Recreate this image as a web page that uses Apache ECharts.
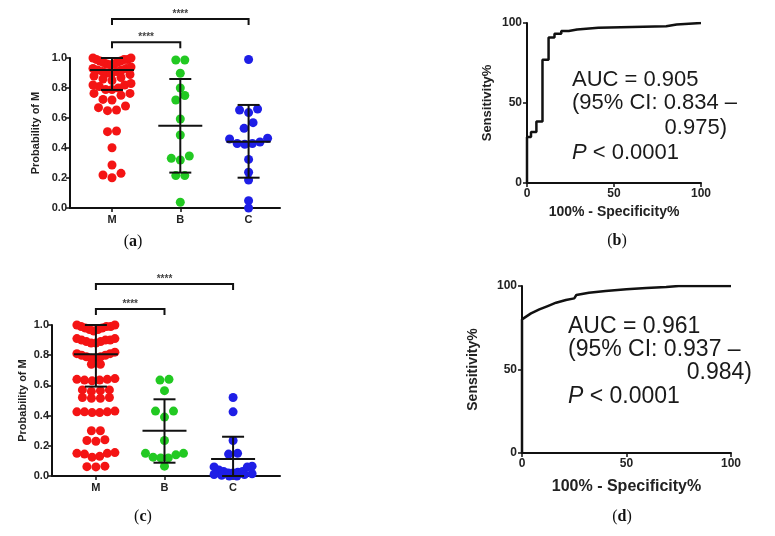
<!DOCTYPE html>
<html>
<head>
<meta charset="utf-8">
<script src="https://cdn.jsdelivr.net/npm/echarts@6/dist/echarts.min.js"></script>
<style>
  html, body { margin: 0; padding: 0; background: #fff; }
  #chart { width: 775px; height: 536px; }
</style>
</head>
<body>
<div id="chart"></div>
<script>
// groups on the dot plots
const groups = ['M', 'B', 'C']

// (a) probability of M, one value per sample
const aM = [1.0, 1.0, 0.99, 0.99, 0.99, 0.98, 0.98, 0.97, 0.97, 0.96, 0.96, 0.955,
  0.94, 0.93, 0.93, 0.92, 0.92, 0.91, 0.91, 0.90, 0.90,
  0.89, 0.88, 0.87, 0.86, 0.85,
  0.83, 0.82, 0.82, 0.81, 0.80, 0.79, 0.79,
  0.764, 0.764, 0.751, 0.724, 0.72,
  0.68, 0.669, 0.653, 0.649,
  0.513, 0.509, 0.402, 0.287, 0.231, 0.22, 0.202]
const aB = [0.987, 0.987, 0.898, 0.80, 0.75, 0.72, 0.593, 0.487, 0.347, 0.331, 0.32, 0.216, 0.216, 0.038]
const aC = [0.99, 0.66, 0.653, 0.636, 0.569, 0.531, 0.465, 0.46, 0.44, 0.43, 0.43, 0.425, 0.324, 0.238, 0.187, 0.049, 0.0]
const aMean = [0.92, 0.549, 0.442]
const aUpper = [1.0, 0.86, 0.687]
const aLower = [0.787, 0.236, 0.202]

// (c) probability of M, one value per sample
const cM = [1.0, 1.0, 0.99, 0.99, 0.99, 0.98, 0.98, 0.97, 0.97, 0.96,
  0.91, 0.91, 0.90, 0.90, 0.90, 0.89, 0.89, 0.88, 0.88,
  0.82, 0.81, 0.81, 0.80, 0.80, 0.79, 0.79, 0.78, 0.78,
  0.74, 0.74,
  0.645, 0.64, 0.64, 0.635, 0.635, 0.63,
  0.57, 0.57, 0.565, 0.56,
  0.52, 0.52, 0.515, 0.515,
  0.43, 0.425, 0.425, 0.425, 0.42, 0.42,
  0.30, 0.30,
  0.24, 0.235, 0.23,
  0.155, 0.15, 0.15, 0.145, 0.13, 0.125,
  0.065, 0.062, 0.06]
const cB = [0.64, 0.635, 0.565, 0.43, 0.43, 0.39, 0.235, 0.15, 0.15, 0.14, 0.125, 0.12, 0.12, 0.065]
const cC = [0.52, 0.425, 0.235, 0.15, 0.145, 0.065, 0.06, 0.06, 0.04, 0.03, 0.03, 0.025, 0.02, 0.02,
  0.015, 0.01, 0.01, 0.005, 0.0, 0.0]
const cMean = [0.806, 0.30, 0.113]
const cUpper = [1.0, 0.508, 0.26]
const cLower = [0.592, 0.088, 0.0]

// significance brackets: [from group, to group]
const sigPairs = [[1, 3], [1, 2]]
const sigMark = '****'
const aBracketY = [1.26, 1.105]
const cBracketY = [1.272, 1.106]

// (b) ROC curve, 100% - specificity vs sensitivity
const bFpr = [0, 0, 2.3, 5.4, 8.9, 12.4, 15.8, 19.7, 24, 28.8, 41, 80, 86, 100]
const bTpr = [0, 28.8, 31.9, 38.5, 77, 91, 93.3, 95, 96, 97, 98, 99, 100, 100]
const bNote = ['AUC = 0.905', '(95% CI: 0.834 \u2013', '0.975)', '< 0.0001']

// (d) ROC curve
const dFpr = [0, 0, 4.3, 8.3, 12.3, 16.3, 21, 25, 26, 32, 40, 50, 59.5, 69, 75, 100]
const dTpr = [0, 80, 83.6, 86, 88, 90, 91.6, 92.6, 94.6, 96, 97, 98, 98.8, 99.4, 100, 100]
const dNote = ['AUC = 0.961', '(95% CI: 0.937 \u2013', '0.984)', '< 0.0001']

const panelTags = ['a', 'b', 'c', 'd']
const groupColors = ['#f41414', '#22c922', '#1e1ee6']

const SANS = '"Liberation Sans", Arial, sans-serif'
const SERIF = '"Liberation Serif", "Times New Roman", serif'
const INK = '#111'

// rows of near-equal values laid side by side, lowest in the middle
const TOL = 0.046
function swarm(values, xc, pxPerX) {
  const sorted = values.slice().sort((p, q) => q - p)
  const rows = []
  sorted.forEach(v => {
    const row = rows[rows.length - 1]
    if (row && row[0] - v <= TOL) row.push(v)
    else rows.push([v])
  })
  const pts = []
  rows.forEach(row => {
    const asc = row.slice().reverse()
    const n = asc.length
    const gap = n > 1 ? Math.min(9, 38 / (n - 1)) : 0
    asc.forEach((v, i) => {
      let k
      if (n % 2) k = (i % 2 ? -1 : 1) * Math.ceil(i / 2)
      else k = (i % 2 ? 1 : -1) * (Math.floor(i / 2) + 0.5)
      pts.push([xc + k * gap / pxPerX, v])
    })
  })
  return pts
}

function meanSd(params, api) {
  const x = api.value(0)
  const m = api.coord([x, api.value(1)])
  const u = api.coord([x, api.value(2)])
  const l = api.coord([x, api.value(3)])
  const st = { stroke: INK, lineWidth: 2 }
  return {
    type: 'group',
    children: [
      { type: 'line', shape: { x1: u[0], y1: u[1], x2: l[0], y2: l[1] }, style: st },
      { type: 'line', shape: { x1: m[0] - 22, y1: m[1], x2: m[0] + 22, y2: m[1] }, style: st },
      { type: 'line', shape: { x1: u[0] - 11, y1: u[1], x2: u[0] + 11, y2: u[1] }, style: st },
      { type: 'line', shape: { x1: l[0] - 11, y1: l[1], x2: l[0] + 11, y2: l[1] }, style: st }
    ]
  }
}

function bracket(params, api) {
  const p1 = api.coord([api.value(0), api.value(2)])
  const p2 = api.coord([api.value(1), api.value(2)])
  const leg = 6
  return {
    type: 'group',
    children: [
      {
        type: 'polyline',
        shape: { points: [[p1[0], p1[1] + leg], [p1[0], p1[1]], [p2[0], p2[1]], [p2[0], p2[1] + leg]] },
        style: { stroke: INK, lineWidth: 2, fill: null }
      },
      {
        type: 'text', x: (p1[0] + p2[0]) / 2, y: p1[1] - 5,
        style: { text: sigMark, font: 'bold 10px ' + SANS, fill: '#444', align: 'center', verticalAlign: 'middle' }
      }
    ]
  }
}

function dotAxes(grid, min, max, nameGap) {
  const x = {
    type: 'value', gridIndex: grid, min: min, max: max,
    axisLine: { onZero: false, lineStyle: { color: INK, width: 2 } },
    axisTick: { customValues: [1, 2, 3], length: 4, lineStyle: { color: INK, width: 1.5 } },
    axisLabel: {
      customValues: [1, 2, 3], margin: 6, color: '#222', fontSize: 11, fontWeight: 'bold',
      formatter: v => groups[Math.round(v) - 1]
    },
    splitLine: { show: false }
  }
  const y = {
    type: 'value', gridIndex: grid, min: 0, max: 1, interval: 0.2,
    name: 'Probability of M', nameLocation: 'middle', nameGap: nameGap,
    nameTextStyle: { fontSize: 11, fontWeight: 'bold', color: '#222' },
    axisLine: { onZero: false, lineStyle: { color: INK, width: 2 } },
    axisTick: { length: 4, lineStyle: { color: INK, width: 1.5 } },
    axisLabel: { margin: 3, color: '#222', fontSize: 11, fontWeight: 'bold', formatter: v => v.toFixed(1) },
    splitLine: { show: false }
  }
  return [x, y]
}

function rocAxes(grid, nameGap, nameSize, yNameGap, yNameSize) {
  const common = {
    type: 'value', gridIndex: grid, min: 0, max: 100, interval: 50,
    nameLocation: 'middle',
    axisLine: { onZero: false, lineStyle: { color: INK, width: 2 } },
    axisTick: { length: 4, lineStyle: { color: INK, width: 1.5 } },
    axisLabel: { margin: 5, color: '#222', fontSize: 12, fontWeight: 'bold' },
    splitLine: { show: false }
  }
  const x = Object.assign({}, common, {
    name: '100% - Specificity%', nameGap: nameGap,
    nameTextStyle: { fontSize: nameSize, fontWeight: 'bold', color: '#222' }
  })
  const y = Object.assign({}, common, {
    name: 'Sensitivity%', nameGap: yNameGap,
    nameTextStyle: { fontSize: yNameSize, fontWeight: 'bold', color: '#222' }
  })
  return [x, y]
}

const grids = [
  { left: 70, top: 58, width: 210, height: 150 },
  { left: 527, top: 23, width: 174, height: 160 },
  { left: 52, top: 325, width: 228, height: 151 },
  { left: 522, top: 286, width: 209, height: 167 }
]
const aRange = [0.385, 3.46]
const cRange = [0.36, 3.684]
const aPx = grids[0].width / (aRange[1] - aRange[0])
const cPx = grids[2].width / (cRange[1] - cRange[0])

const aAx = dotAxes(0, aRange[0], aRange[1], 29)
const bAx = rocAxes(1, 22, 14, 33, 13)
const cAx = dotAxes(2, cRange[0], cRange[1], 24)
const dAx = rocAxes(3, 26, 16, 42, 14)

const series = []
function dotPanel(idx, lists, mean, upper, lower, brY, pxPerX) {
  lists.forEach((vals, i) => {
    series.push({
      type: 'scatter', xAxisIndex: idx, yAxisIndex: idx, z: 2, clip: false,
      symbolSize: 9, itemStyle: { color: groupColors[i], opacity: 1 },
      data: swarm(vals, i + 1, pxPerX)
    })
  })
  series.push({
    type: 'custom', xAxisIndex: idx, yAxisIndex: idx, z: 4, clip: false,
    renderItem: meanSd,
    data: groups.map((g, i) => [i + 1, mean[i], upper[i], lower[i]])
  })
  series.push({
    type: 'custom', xAxisIndex: idx, yAxisIndex: idx, z: 4, clip: false,
    renderItem: bracket,
    data: sigPairs.map((p, i) => [p[0], p[1], brY[i]])
  })
}
dotPanel(0, [aM, aB, aC], aMean, aUpper, aLower, aBracketY, aPx)
dotPanel(2, [cM, cB, cC], cMean, cUpper, cLower, cBracketY, cPx)

series.push({
  type: 'line', xAxisIndex: 1, yAxisIndex: 1, step: 'end', showSymbol: false,
  lineStyle: { color: INK, width: 2.5 },
  data: bFpr.map((x, i) => [x, bTpr[i]])
})
series.push({
  type: 'line', xAxisIndex: 3, yAxisIndex: 3, showSymbol: false,
  lineStyle: { color: INK, width: 2.5 },
  data: dFpr.map((x, i) => [x, dTpr[i]])
})

function noteTexts(lines, left, right, ys, size) {
  const font = size + 'px ' + SANS
  return [
    { type: 'text', x: left, y: ys[0], style: { text: lines[0], font: font, fill: '#1a1a1a', verticalAlign: 'middle' } },
    { type: 'text', x: left, y: ys[1], style: { text: lines[1], font: font, fill: '#1a1a1a', verticalAlign: 'middle' } },
    { type: 'text', x: right, y: ys[2], style: { text: lines[2], font: font, fill: '#1a1a1a', align: 'right', verticalAlign: 'middle' } },
    {
      type: 'text', x: left, y: ys[3],
      style: {
        text: '{i|P} ' + lines[3], fontSize: size, fontFamily: SANS, fill: '#1a1a1a', verticalAlign: 'middle',
        rich: { i: { fontStyle: 'italic', fontSize: size, fontFamily: SANS, fill: '#1a1a1a' } }
      }
    }
  ]
}

const tagPos = [[133, 242], [617, 241], [143, 517], [622, 517]]
const tagTexts = panelTags.map((t, i) => ({
  type: 'text', x: tagPos[i][0], y: tagPos[i][1],
  style: {
    text: '({b|' + t + '})', fontSize: 16, fontFamily: SERIF, fill: '#111',
    align: 'center', verticalAlign: 'middle',
    rich: { b: { fontWeight: 'bold', fontSize: 16, fontFamily: SERIF, fill: '#111' } }
  }
}))

const chart = echarts.init(document.getElementById('chart'))
chart.setOption({
  animation: false,
  backgroundColor: '#fff',
  textStyle: { fontFamily: SANS },
  grid: grids,
  xAxis: [aAx[0], bAx[0], cAx[0], dAx[0]],
  yAxis: [aAx[1], bAx[1], cAx[1], dAx[1]],
  series: series,
  graphic: [].concat(
    noteTexts(bNote, 572, 727, [80, 103, 128, 153], 22),
    noteTexts(dNote, 568, 752, [327, 350, 373, 397], 23),
    tagTexts
  )
})
</script>
</body>
</html>
